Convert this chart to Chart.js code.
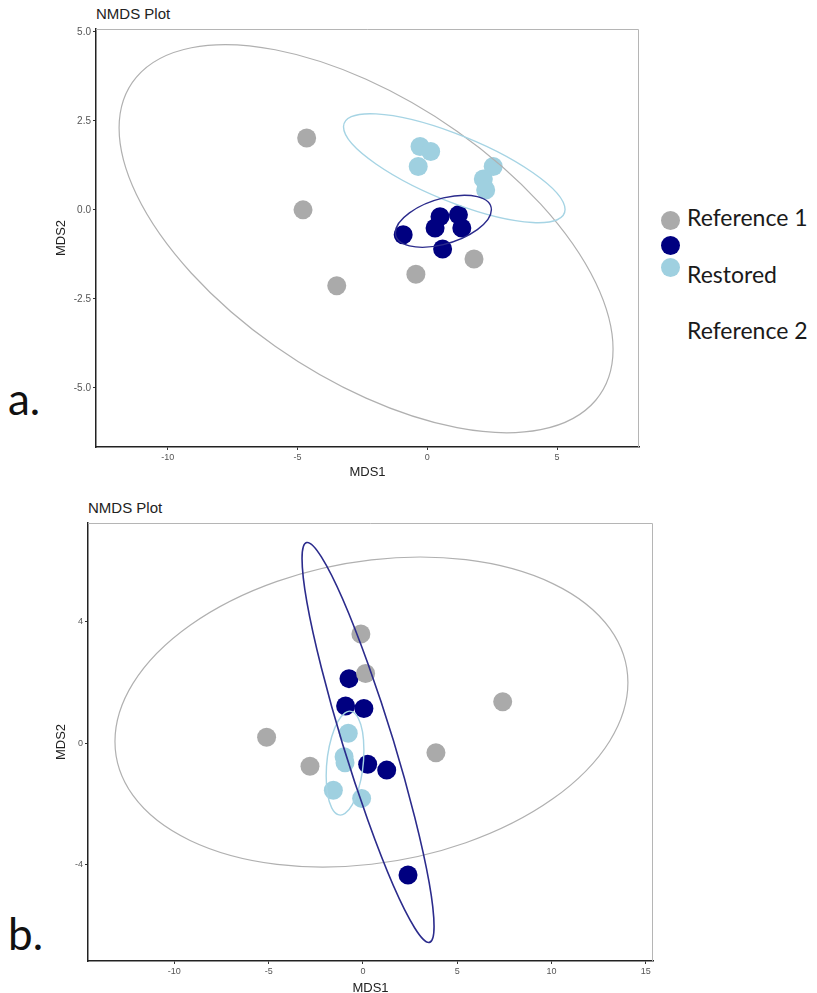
<!DOCTYPE html>
<html>
<head>
<meta charset="utf-8">
<script src="https://cdn.jsdelivr.net/npm/chart.js@4.4.1/dist/chart.umd.min.js"></script>
<style>
  body { margin: 0; background: #fff; width: 817px; height: 993px; position: relative; overflow: hidden;
         font-family: "Liberation Sans", Arial, sans-serif; }
  canvas { position: absolute; left: 0; }
  .title { position: absolute; font-size: 15px; line-height: 15px; color: #222; }
  .tag { position: absolute; left: 8px; font-family: Lato, "Noto Sans", sans-serif; font-size: 44px; line-height: 44px; color: #111; }
  .leg-dot { position: absolute; width: 19px; height: 19px; border-radius: 50%; }
  .leg-txt { position: absolute; left: 687px; font-family: Lato, "Noto Sans", sans-serif; font-size: 23px; line-height: 26px; color: #1a1a1a; }
</style>
</head>
<body>
<div class="title" style="left:96px; top:6px;">NMDS Plot</div>
<div class="title" style="left:88px; top:500px;">NMDS Plot</div>
<div class="tag" style="top:376px;">a.</div>
<div class="tag" style="top:911px;">b.</div>

<div class="leg-dot" style="left:661px; top:211px; background:#aaaaaa;"></div>
<div class="leg-dot" style="left:661px; top:236px; background:#000080;"></div>
<div class="leg-dot" style="left:661px; top:258px; background:#9fd0e0;"></div>
<div class="leg-txt" style="top:204px;">Reference 1</div>
<div class="leg-txt" style="top:261px;">Restored</div>
<div class="leg-txt" style="top:317px;">Reference 2</div>

<canvas id="chartA" width="650" height="480" style="top:0;"></canvas>
<canvas id="chartB" width="665" height="506" style="top:490px;"></canvas>

<script>
// ---- panel a ----
const aRef1X = [-4.65, -4.79, -3.49, -0.44, 1.80];
const aRef1Y = [2.02, 0.00, -2.13, -1.81, -1.38];
const aRef2X = [-0.93, 0.49, 1.20, 0.30, 1.33, 0.59];
const aRef2Y = [-0.70, -0.19, -0.14, -0.51, -0.51, -1.10];
const aRestX = [-0.28, 0.13, -0.35, 2.54, 2.16, 2.25];
const aRestY = [1.78, 1.64, 1.22, 1.22, 0.87, 0.56];
// ellipses: [centre x, centre y, half width, half height, correlation]
const aRef1Ell = [-2.36, -0.81, 9.52, 5.45, -0.57];
const aRef2Ell = [0.62, -0.32, 1.85, 0.73, 0.44];
const aRestEll = [1.04, 1.17, 4.27, 1.53, -0.76];
const aXTicks = [-10, -5, 0, 5];
const aYTicks = [-5, -2.5, 0, 2.5, 5];

// ---- panel b ----
const bRef1X = [-0.11, 0.14, 7.41, -5.11, -2.81, 3.87];
const bRef1Y = [3.59, 2.29, 1.36, 0.19, -0.76, -0.32];
const bRef2X = [-0.74, -0.92, 0.05, 0.25, 1.26, 2.39];
const bRef2Y = [2.12, 1.22, 1.14, -0.70, -0.89, -4.34];
const bRestX = [-0.78, -1.00, -0.95, -1.57, -0.07];
const bRestY = [0.32, -0.45, -0.65, -1.55, -1.82];
const bRef1Ell = [0.45, 1.02, 13.6, 5.10, 0.19];
const bRef2Ell = [0.27, 0.02, 3.5, 6.58, -0.92];
const bRestEll = [-0.95, -0.66, 1.0, 1.71, 0.25];
const bXTicks = [-10, -5, 0, 5, 10, 15];
const bYTicks = [-4, 0, 4];

const GREY = '#aaaaaa', NAVY = '#000080', LIGHT = '#9fd0e0';

const zip = (xs, ys) => xs.map((x, i) => ({ x: x, y: ys[i] }));

// grey panel border on top and right, ggplot style
const framePlugin = {
    id: 'frame',
    beforeDatasetsDraw(chart) {
        const { ctx, chartArea: a } = chart;
        ctx.save();
        ctx.strokeStyle = '#b5b5b5';
        ctx.lineWidth = 1;
        ctx.beginPath();
        ctx.moveTo(a.left, a.top + 0.5);
        ctx.lineTo(a.right - 0.5, a.top + 0.5);
        ctx.lineTo(a.right - 0.5, a.bottom);
        ctx.stroke();
        ctx.restore();
    }
};

// confidence ellipses drawn in data space through the chart scales
const ellipsePlugin = {
    id: 'ellipses',
    afterDatasetsDraw(chart, args, opts) {
        const { ctx, scales: { x, y } } = chart;
        const x0 = x.getPixelForValue(0), sx = x.getPixelForValue(1) - x0;
        const y0 = y.getPixelForValue(0), sy = y.getPixelForValue(1) - y0;
        opts.items.forEach(item => {
            const [cx, cy, w, h, rho] = item.e;
            ctx.save();
            ctx.beginPath();
            ctx.transform(sx, 0, 0, sy, x0, y0);
            ctx.transform(w, h * rho, 0, -h * Math.sqrt(1 - rho * rho), cx, cy);
            ctx.arc(0, 0, 1, 0, Math.PI * 2);
            ctx.restore();
            ctx.save();
            ctx.strokeStyle = item.color;
            ctx.lineWidth = item.width;
            ctx.stroke();
            ctx.restore();
        });
    }
};

function makePanel(id, cfg) {
    const axis = (ticks, fmt, min, max, fit, title, titlePad, tickSize) => ({
        type: 'linear',
        min: min,
        max: max,
        afterFit: fit,
        afterBuildTicks: s => { s.ticks = ticks.map(v => ({ value: v })); },
        grid: { drawOnChartArea: false, drawTicks: true, tickLength: 3, color: '#333' },
        border: { display: true, color: '#222', width: 1.5 },
        ticks: {
            autoSkip: false, maxRotation: 0, padding: 2,
            color: '#555', font: { family: '"Liberation Sans", Arial', size: tickSize },
            callback: v => fmt(v)
        },
        title: {
            display: true, text: title, color: '#222',
            font: { family: '"Liberation Sans", Arial', size: 13 },
            padding: titlePad
        }
    });

    return new Chart(document.getElementById(id), {
        type: 'scatter',
        data: {
            datasets: [
                { label: 'Reference 1', data: cfg.ref1, backgroundColor: GREY, order: 0 },
                { label: 'Restored', data: cfg.rest, backgroundColor: LIGHT, order: 1 },
                { label: 'Reference 2', data: cfg.ref2, backgroundColor: NAVY, order: 2 }
            ].map(d => Object.assign(d, { pointRadius: 9.5, borderWidth: 0, pointHoverRadius: 9.5 }))
        },
        options: {
            responsive: false,
            animation: false,
            layout: { padding: cfg.padding },
            plugins: {
                legend: { display: false },
                tooltip: { enabled: false },
                ellipses: { items: cfg.ellipses }
            },
            scales: {
                x: axis(cfg.xTicks, cfg.xFmt, cfg.xMin, cfg.xMax, s => { s.height = cfg.xH; }, 'MDS1', { top: 0, bottom: 0 }, 9),
                y: axis(cfg.yTicks, cfg.yFmt, cfg.yMin, cfg.yMax, s => { s.width = cfg.yW; }, 'MDS2', { top: 54, bottom: 0 }, cfg.yTickSize)
            }
        },
        plugins: [framePlugin, ellipsePlugin]
    });
}

makePanel('chartA', {
    ref1: zip(aRef1X, aRef1Y), ref2: zip(aRef2X, aRef2Y), rest: zip(aRestX, aRestY),
    ellipses: [
        { e: aRef1Ell, color: '#b0b0b0', width: 1.2 },
        { e: aRestEll, color: '#a6d4e4', width: 1.4 },
        { e: aRef2Ell, color: '#2b2b8c', width: 1.4 }
    ],
    xTicks: aXTicks, yTicks: aYTicks,
    xFmt: v => String(v), yFmt: v => v.toFixed(1),
    xMin: -12.77, xMax: 8.16, yMin: -6.66, yMax: 5.08,
    xH: 33, yW: 96, yTickSize: 10,
    padding: { top: 29, right: 11, left: 0, bottom: 0 }
});

makePanel('chartB', {
    ref1: zip(bRef1X, bRef1Y), ref2: zip(bRef2X, bRef2Y), rest: zip(bRestX, bRestY),
    ellipses: [
        { e: bRef1Ell, color: '#b0b0b0', width: 1.2 },
        { e: bRestEll, color: '#a6d4e4', width: 1.4 },
        { e: bRef2Ell, color: '#2b2b8c', width: 1.6 }
    ],
    xTicks: bXTicks, yTicks: bYTicks,
    xFmt: v => String(v), yFmt: v => String(v),
    xMin: -14.58, xMax: 15.38, yMin: -7.17, yMax: 7.24,
    xH: 35, yW: 88, yTickSize: 9,
    padding: { top: 33, right: 12, left: 0, bottom: 0 }
});
</script>
</body>
</html>
